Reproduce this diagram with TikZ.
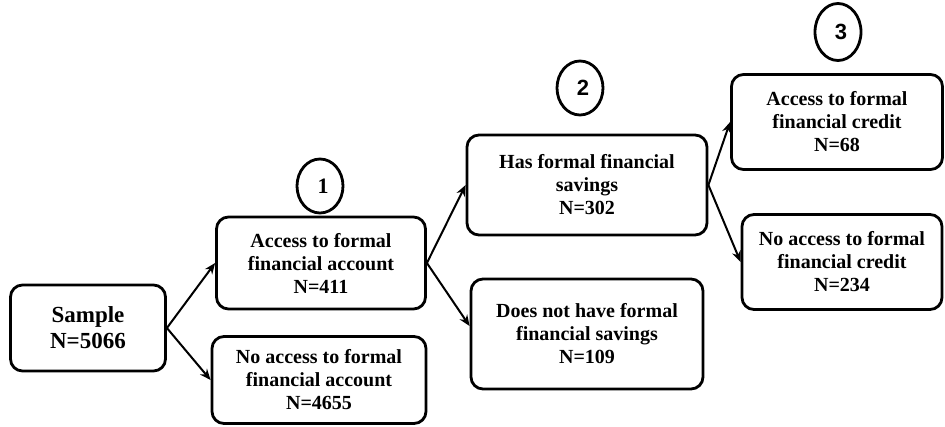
\documentclass[tikz,border=0pt]{standalone}
\usepackage{fontspec}
\setmainfont{Liberation Serif}
\newfontfamily\numfont{Liberation Sans}
\usetikzlibrary{shapes.geometric, arrows.meta}

\begin{document}
\begin{tikzpicture}[x=1pt, y=-1pt,
  box/.style={draw, line width=2.8pt, rounded corners=12pt, align=center,
    font=\bfseries\fontsize{20}{23}\selectfont, inner sep=0pt},
  stage/.style={draw, ellipse, line width=2.8pt, inner sep=0pt,
    minimum width=46pt, minimum height=54pt, font=\bfseries\fontsize{22}{24}\selectfont},
  flow/.style={->, >={Stealth[length=11pt, width=9pt]}, line width=2pt}]
 \useasboundingbox (0,0) rectangle (945,426);
 % boxes
 \node[box, minimum width=155pt, minimum height=86pt, font=\bfseries\fontsize{23}{26}\selectfont] (SAMPLE) at (88,328) {Sample\\N=5066};
 \node[box, minimum width=209pt, minimum height=92pt] (ACC) at (321,263) {Access to formal\\financial account\\N=411};
 \node[box, minimum width=214pt, minimum height=87pt] (NOACC) at (319,380) {No access to formal\\financial account\\N=4655};
 \node[box, minimum width=240pt, minimum height=100pt] (SAV) at (587,185) {Has formal financial\\savings\\N=302};
 \node[box, minimum width=232pt, minimum height=110pt] (NOSAV) at (587,334) {Does not have formal\\financial savings\\N=109};
 \node[box, minimum width=211pt, minimum height=95pt] (CRED) at (837,122) {Access to formal\\financial credit\\N=68};
 \node[box, minimum width=200pt, minimum height=95pt] (NOCRED) at (842,262) {No access to formal\\financial credit\\N=234};
 % stage markers
 \node[stage] (S1) at (320,186) {\hspace{6pt}1};
 \node[stage] (S2) at (580,88) {\hspace{6pt}\numfont 2};
 \node[stage, minimum height=57pt] (S3) at (838,32) {\hspace{6pt}\numfont 3};
 % arrows
 \draw[flow] (SAMPLE.east) -- (ACC.west);
 \draw[flow] (SAMPLE.east) -- (NOACC.west);
 \draw[flow] (ACC.east) -- (SAV.west);
 \draw[flow] (ACC.east) -- ([yshift=8pt]NOSAV.west);
 \draw[flow] (SAV.east) -- (CRED.west);
 \draw[flow] (SAV.east) -- (NOCRED.west);
\end{tikzpicture}
\end{document}
